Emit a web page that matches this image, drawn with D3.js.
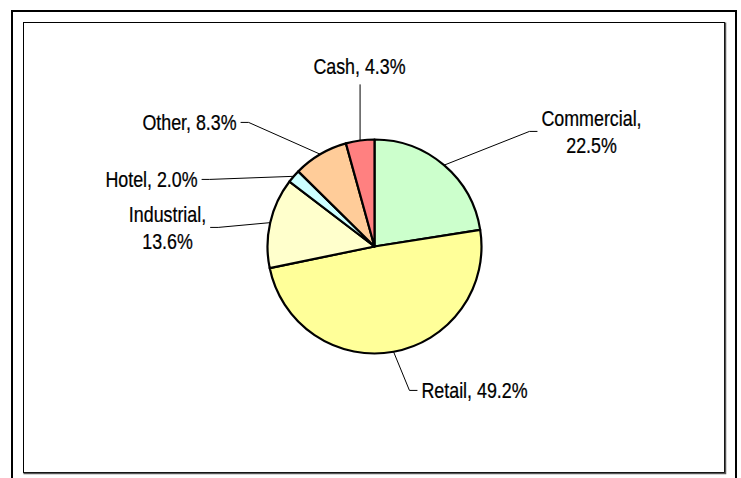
<!DOCTYPE html>
<html>
<head>
<meta charset="utf-8">
<script src="https://cdn.jsdelivr.net/npm/d3@7"></script>
<style>
  body { margin: 0; background: #fff; }
  svg text { font-family: "Liberation Sans Narrow", "Arial Narrow", "Liberation Sans", Arial, sans-serif; font-size: 21.5px; fill: #000; stroke: #000; stroke-width: 0.25px; }
</style>
</head>
<body>
<svg id="chart" width="741" height="478"></svg>
<script>
// data, clockwise from 12 o'clock
const categories = ["Commercial", "Retail", "Industrial", "Hotel", "Other", "Cash"];
const shares = [22.5, 49.2, 13.6, 2.0, 8.3, 4.3];
const sliceColors = ["#CCFFCC", "#FFFF99", "#FFFFCC", "#CCFFFF", "#FFCC99", "#FF8080"];
// how each label is broken into lines
const labelLines = [
  ["Commercial,", "22.5%"],
  ["Retail, 49.2%"],
  ["Industrial,", "13.6%"],
  ["Hotel, 2.0%"],
  ["Other, 8.3%"],
  ["Cash, 4.3%"]
];

const width = 741, height = 478;
const cx = 374.5, cy = 246.5, radius = 107;
// label block centres relative to the pie centre (manually placed, like the original)
const labelOffset = [[217, -115], [100, 144], [-207, -19], [-223, -67], [-185, -124], [-15, -180]];
const lineHeight = 27;
const squeeze = 0.83; // no narrow font installed, so condense by hand

const svg = d3.select("#chart");

// frames
svg.append("rect")
  .attr("x", 12).attr("y", 11)
  .attr("width", 724).attr("height", 490)
  .attr("fill", "none").attr("stroke", "#000").attr("stroke-width", 2);

svg.append("rect")
  .attr("x", 23.5).attr("y", 22.5)
  .attr("width", 701).attr("height", 450)
  .attr("fill", "#fff").attr("stroke", "#000").attr("stroke-width", 1);
svg.append("path")
  .attr("d", "M725.5,22.5V473.5H23.5")
  .attr("fill", "none").attr("stroke", "#555").attr("stroke-width", 1.5);

const pie = d3.pie().sort(null).value(d => d);
const arcs = pie(shares);
const arc = d3.arc().innerRadius(0).outerRadius(radius);

const g = svg.append("g").attr("transform", "translate(" + cx + "," + cy + ")");

g.selectAll("path.slice")
  .data(arcs)
  .enter().append("path")
  .attr("class", "slice")
  .attr("d", arc)
  .attr("fill", (d, i) => sliceColors[i])
  .attr("stroke", "#000")
  .attr("stroke-width", 2.2)
  .attr("stroke-linejoin", "round");

// labels
const labels = g.selectAll("g.lbl")
  .data(arcs)
  .enter().append("g")
  .attr("class", "lbl")
  .attr("transform", (d, i) => "translate(" + labelOffset[i][0] + "," + labelOffset[i][1] + ") scale(" + squeeze + ",1)");

labels.each(function(d, i) {
  const lines = labelLines[i];
  const top = -(lines.length - 1) * lineHeight / 2;
  const t = d3.select(this).append("text").attr("text-anchor", "middle");
  lines.forEach((s, j) => {
    t.append("tspan")
      .attr("x", 0)
      .attr("y", top + j * lineHeight)
      .attr("dy", "0.35em")
      .text(s);
  });
});

// leader lines
labels.each(function(d, i) {
  const b = this.getBBox();
  const off = labelOffset[i];
  const bb = { x: off[0] + b.x * squeeze, y: off[1] + b.y, width: b.width * squeeze, height: b.height };
  const a = (d.startAngle + d.endAngle) / 2;
  const sx = Math.sin(a) * radius, sy = -Math.cos(a) * radius;
  const mx = bb.x + bb.width / 2, my = bb.y + bb.height / 2;
  let pts;
  if (Math.abs(mx - sx) < bb.width / 2) {
    // label sits straight above / below
    const ey = my < sy ? bb.y + bb.height + 6 : bb.y - 6;
    pts = [[sx, sy], [sx, ey]];
  } else if (mx > sx) {
    const ex = bb.x - 4;
    pts = [[sx, sy], [ex - 8, my], [ex, my]];
  } else {
    const ex = bb.x + bb.width + 4;
    pts = [[sx, sy], [ex + 8, my], [ex, my]];
  }
  g.insert("path", "path.slice")
    .attr("d", d3.line()(pts))
    .attr("fill", "none")
    .attr("stroke", "#000")
    .attr("stroke-width", 1);
});
</script>
</body>
</html>
